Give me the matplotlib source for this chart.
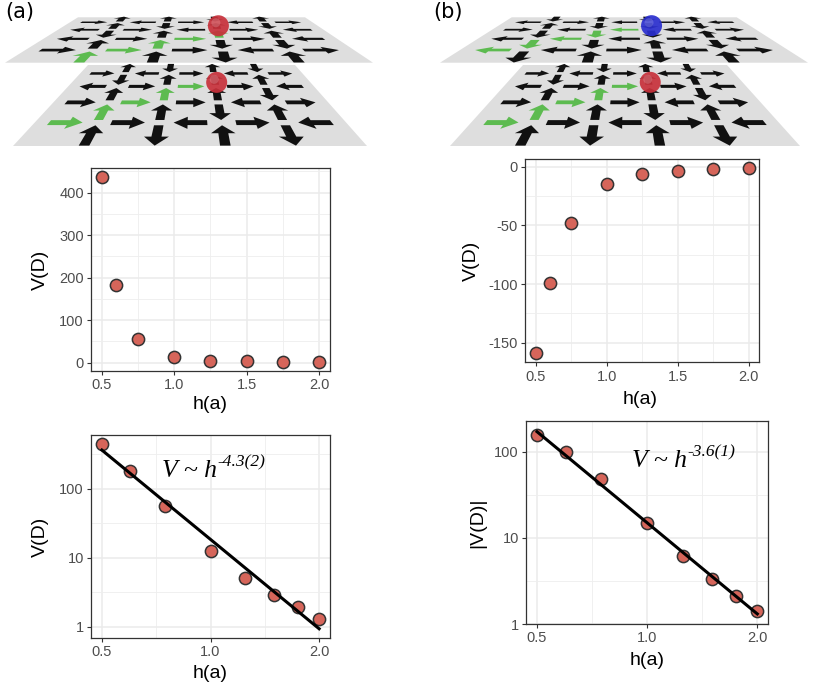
import numpy as np
import matplotlib.pyplot as plt
from matplotlib.patches import Polygon, Circle
from matplotlib.ticker import FixedLocator, NullFormatter, AutoMinorLocator

plt.rcParams['font.family'] = ['Liberation Sans', 'DejaVu Sans']
plt.rcParams['axes.unicode_minus'] = False

# ---- data ----
h = [0.5, 0.6, 0.75, 1.0, 1.25, 1.5, 1.75, 2.0]
v_a = [437, 182, 56.5, 12.6, 5.0, 2.9, 1.9, 1.3]
v_b = [-158.5, -99.4, -48.3, -15.1, -6.1, -3.3, -2.1, -1.4]
absv_b = [158.5, 99.4, 48.3, 15.1, 6.1, 3.3, 2.1, 1.4]
fit_h = [0.5, 2.0]
fit_a = [363, 0.93]
fit_b = [172, 1.31]
exp_a = '-4.3(2)'
exp_b = '-3.6(1)'

# link directions of the lattice drawings (rows from front to back)
# horizontal rows: +1 right, -1 left ; vertical rows: +1 away, -1 toward
lower_h = {1: [1, 1, -1, 1, -1], 3: [1, 1, 1, -1, 1],
           5: [-1, 1, 1, 1, -1], 7: [1, -1, 1, -1, 1]}
lower_v = {0: [1, -1, 1, -1], 2: [1, 1, -1, 1], 4: [1, 1, 1, -1],
           6: [-1, 1, 1, 1], 8: [1, -1, 1, -1]}
lower_green = [(1, 0), (2, 0), (3, 1), (4, 1), (5, 2)]

upper_a_h = {1: [1, 1, 1, -1, 1], 3: [-1, 1, 1, 1, -1],
             5: [-1, 1, -1, 1, -1], 7: [1, -1, 1, -1, 1]}
upper_a_v = {0: [1, 1, -1, 1], 2: [1, 1, -1, -1], 4: [-1, 1, 1, 1],
             6: [1, -1, 1, -1], 8: [1, 1, -1, 1]}
upper_a_green = [(0, 0), (1, 1), (2, 1), (3, 2), (4, 2)]

upper_b_h = {k: [-d for d in r] for k, r in lower_h.items()}
upper_b_v = {k: [-d for d in r] for k, r in lower_v.items()}

W, H = 818, 698
fig = plt.figure(figsize=(W / 100, H / 100), dpi=100)


def box(l, t, r, b):
    return [l / W, 1 - b / H, (r - l) / W, (b - t) / H]


def ftext(x, y, s, **kw):
    fig.text(x / W, 1 - y / H, s, **kw)


# ---- lattice illustrations ----
ill = fig.add_axes([0, 0, 1, 1])
ill.set_xlim(0, W)
ill.set_ylim(H, 0)
ill.axis('off')

DEPTH = 0.656


def project(plane, u, w):
    xbl, xbr, yb, xtl, xtr, yt = plane
    wb, wt = xbr - xbl, xtr - xtl
    k = wb / wt - 1
    yh = (yt * (1 + k) - yb) / k
    xcb, xct = (xbl + xbr) / 2, (xtl + xtr) / 2
    xvp = (xct * (1 + k) - xcb) / k
    z = 1 + k * (w / DEPTH)
    y = yh + (yb - yh) / z
    x = xvp + (xcb - xvp) / z + (u - 0.5) * wb / z
    return x, y


L, HL, HW, SW = 0.108, 0.045, 0.037, 0.015
base = [(-L / 2, -SW), (L / 2 - HL, -SW), (L / 2 - HL, -HW), (L / 2, 0),
        (L / 2 - HL, HW), (L / 2 - HL, SW), (-L / 2, SW)]


def row_w(k):
    return (0.085 + 0.107 * k) * DEPTH


def draw_plane(plane, hrows, vrows, green, sphere):
    xbl, xbr, yb, xtl, xtr, yt = plane
    ill.add_patch(Polygon([(xbl, yb), (xbr, yb), (xtr, yt), (xtl, yt)],
                          closed=True, fc='#dedede', ec='none'))
    items = []
    for k, r in hrows.items():
        for j, d in enumerate(r):
            items.append((k, j, 0.1 + 0.2 * j, d, 'h'))
    for k, r in vrows.items():
        for j, d in enumerate(r):
            items.append((k, j, 0.2 + 0.2 * j, d, 'v'))
    items.sort(key=lambda t: -t[0])
    for k, j, uc, d, kind in items:
        wc = row_w(k)
        pts = []
        for px, py in base:
            if kind == 'h':
                dx, dy = d * px, py
            else:
                dx, dy = -py * d, px * d
            pts.append(project(plane, uc + dx, wc + dy))
        col = '#5dbb50' if (k, j) in green else '#111111'
        ill.add_patch(Polygon(pts, closed=True, fc=col, ec='none'))
    sx, sy = project(plane, 0.6, row_w(5))
    ill.add_patch(Circle((sx + 1, sy - 4), 10.5, fc=sphere, ec='none', alpha=0.92))
    ill.add_patch(Circle((sx - 1.5, sy - 7), 4.5, fc='white', ec='none', alpha=0.18))


draw_plane((13, 367, 146, 88, 295, 65), lower_h, lower_v, lower_green, '#c8313b')
draw_plane((5, 373, 62.7, 78, 305, 17.3), upper_a_h, upper_a_v, upper_a_green, '#c8313b')
draw_plane((450, 800, 146, 523, 727, 65), lower_h, lower_v, lower_green, '#c8313b')
draw_plane((440, 808, 62.7, 511.7, 736.7, 17.3), upper_b_h, upper_b_v, lower_green, '#2b2fcf')

ftext(5, 12, '(a)', fontsize=15, family='DejaVu Sans', va='center')
ftext(433, 12, '(b)', fontsize=15, family='DejaVu Sans', va='center')


# ---- scatter panels ----
def style(ax):
    ax.set_facecolor('white')
    for s in ax.spines.values():
        s.set_color('#333333')
        s.set_linewidth(0.9)
    ax.tick_params(which='major', direction='out', length=2.7, width=0.8,
                   color='#333333', labelsize=10.5, labelcolor='#4D4D4D', pad=2.5)
    ax.tick_params(which='minor', length=0)
    ax.grid(which='major', color='#EBEBEB', lw=1.1)
    ax.grid(which='minor', color='#EEEEEE', lw=0.6)
    ax.set_axisbelow(True)


def points(ax, x, y):
    ax.plot(x, y, 'o', ms=8.8, mfc='#D6655A', mec='#333333', mew=1.1, zorder=3)


def log_x(ax):
    ax.set_xscale('log')
    ax.set_xlim(0.5 / 1.0718, 2.0 * 1.0718)
    ax.xaxis.set_major_locator(FixedLocator([0.5, 1.0, 2.0]))
    ax.set_xticklabels(['0.5', '1.0', '2.0'])
    ax.xaxis.set_minor_locator(FixedLocator([0.5 ** 0.5, 2 ** 0.5]))
    ax.xaxis.set_minor_formatter(NullFormatter())


def log_y(ax, lo, hi):
    ax.set_yscale('log')
    ax.set_ylim(lo, hi)
    ax.yaxis.set_major_locator(FixedLocator([1, 10, 100]))
    ax.set_yticklabels(['1', '10', '100'])
    ax.yaxis.set_minor_locator(FixedLocator([10 ** 0.5, 10 ** 1.5, 10 ** 2.5]))
    ax.yaxis.set_minor_formatter(NullFormatter())


# (a) linear
ax1 = fig.add_axes(box(91, 168, 330, 371))
style(ax1)
points(ax1, h, v_a)
ax1.set_xlim(0.425, 2.075)
ax1.set_ylim(-19.5, 458)
ax1.set_xticks([0.5, 1.0, 1.5, 2.0])
ax1.set_xticklabels(['0.5', '1.0', '1.5', '2.0'])
ax1.set_yticks([0, 100, 200, 300, 400])
ax1.xaxis.set_minor_locator(AutoMinorLocator(2))
ax1.yaxis.set_minor_locator(AutoMinorLocator(2))

# (a) log-log
ax2 = fig.add_axes(box(91, 435, 330, 637.7))
style(ax2)
points(ax2, h, v_a)
ax2.plot(fit_h, fit_a, color='black', lw=2.2, zorder=4)
log_x(ax2)
log_y(ax2, 0.69, 600)

# (b) linear
ax3 = fig.add_axes(box(525.3, 159.3, 759.3, 362.3))
style(ax3)
points(ax3, h, v_b)
ax3.set_xlim(0.425, 2.075)
ax3.set_ylim(-166.7, 6.3)
ax3.set_xticks([0.5, 1.0, 1.5, 2.0])
ax3.set_xticklabels(['0.5', '1.0', '1.5', '2.0'])
ax3.set_yticks([-150, -100, -50, 0])
ax3.xaxis.set_minor_locator(AutoMinorLocator(2))
ax3.yaxis.set_minor_locator(AutoMinorLocator(2))

# (b) log-log
ax4 = fig.add_axes(box(526, 421, 768.3, 624))
style(ax4)
points(ax4, h, absv_b)
ax4.plot(fit_h, fit_b, color='black', lw=2.2, zorder=4)
log_x(ax4)
log_y(ax4, 1, 229)

# axis titles
tk = dict(fontsize=14, color='black', ha='center', va='center')
ftext(40, 269.5, 'V(D)', rotation=90, **tk)
ftext(210.5, 405, 'h(a)', **tk)
ftext(40, 536.5, 'V(D)', rotation=90, **tk)
ftext(210.5, 673, 'h(a)', **tk)
ftext(471.7, 260.8, 'V(D)', rotation=90, **tk)
ftext(640, 400, 'h(a)', **tk)
ftext(477.3, 522.5, '|V(D)|', rotation=90, **tk)
ftext(647, 660.7, 'h(a)', **tk)

# power-law annotations
serif = dict(family='Liberation Serif', style='italic', ha='left', va='baseline')
ftext(161.7, 476.7, 'V ~ h', fontsize=18.5, **serif)
ftext(217.5, 466.0, exp_a, fontsize=12.5, **serif)
ftext(631.7, 466.7, 'V ~ h', fontsize=18.5, **serif)
ftext(687.5, 456.0, exp_b, fontsize=12.5, **serif)

fig.savefig('out.png', dpi=100)
